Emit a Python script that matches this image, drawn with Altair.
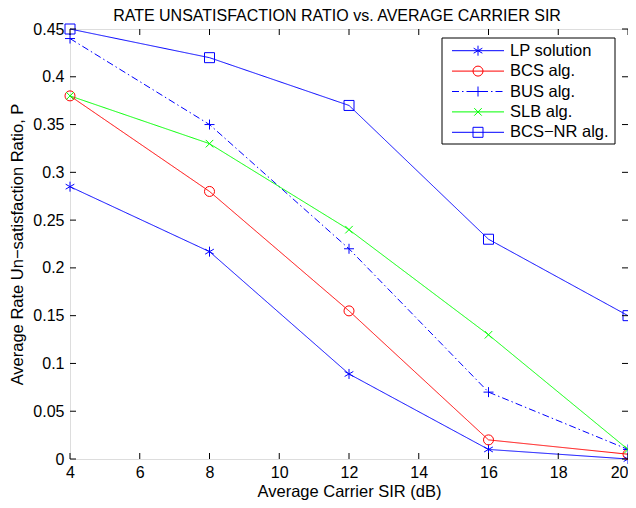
import altair as alt
import pandas as pd

# ---- data ----
snr = [4, 8, 12, 16, 20]
series_names = ["LP solution", "BCS alg.", "BUS alg.", "SLB alg.", "BCS\u2212NR alg."]
lp = [0.285, 0.217, 0.089, 0.010, 0.000]
bcs = [0.380, 0.280, 0.155, 0.020, 0.005]
bus = [0.440, 0.350, 0.220, 0.070, 0.010]
slb = [0.380, 0.330, 0.240, 0.130, 0.010]
bcsnr = [0.450, 0.420, 0.370, 0.230, 0.150]
x_ticks = [4, 6, 8, 10, 12, 14, 16, 18, 20]
y_ticks = [0, 0.05, 0.1, 0.15, 0.2, 0.25, 0.3, 0.35, 0.4, 0.45]

values = [lp, bcs, bus, slb, bcsnr]
rows = []
for name, vals in zip(series_names, values):
    for x, y in zip(snr, vals):
        rows.append({"series": name, "sir": x, "ratio": y})
df = pd.DataFrame(rows)
leg_df = pd.DataFrame({"series": series_names, "idx": list(range(len(series_names)))})

FONT = "Liberation Sans"
W, H = 558, 430

colors = ["#0000ff", "#ff0000", "#0000ff", "#00ff00", "#0000ff"]
dashes = [[1, 0], [1, 0], [7, 3, 1.5, 3], [1, 0], [1, 0]]
star = "M0,-1L0,1M-0.87,-0.5L0.87,0.5M-0.87,0.5L0.87,-0.5"
plus = "M0,-1L0,1M-1,0L1,0"
xmark = "M-0.75,-0.75L0.75,0.75M-0.75,0.75L0.75,-0.75"
shapes = [star, "circle", plus, xmark, "square"]
sizes = [100, 100, 110, 90, 70]

color_enc = alt.Color("series:N", scale=alt.Scale(domain=series_names, range=colors), legend=None)
dash_enc = alt.StrokeDash("series:N", scale=alt.Scale(domain=series_names, range=dashes), legend=None)
shape_enc = alt.Shape("series:N", scale=alt.Scale(domain=series_names, range=shapes), legend=None)
size_enc = alt.Size("series:N", scale=alt.Scale(domain=series_names, range=sizes), legend=None)

xs = alt.Scale(domain=[4, 20], nice=False, zero=False)
ys = alt.Scale(domain=[0, 0.45], nice=False, zero=False)

x_enc = alt.X("sir:Q", scale=xs, title="Average Carrier SIR (dB)",
              axis=alt.Axis(values=x_ticks, grid=False, ticks=False, domain=False,
                            labelFontSize=16, labelFont=FONT, labelPadding=5, labelColor="black",
                            labelAlign={"expr": "datum.value == 20 ? 'right' : 'center'"},
                            titleFontSize=16.5, titleFont=FONT, titleFontWeight="normal",
                            titlePadding=3, titleColor="black", labelFlush=False))
y_enc = alt.Y("ratio:Q", scale=ys, title="Average Rate Un\u2212satisfaction Ratio, P",
              axis=alt.Axis(values=y_ticks, grid=False, ticks=False, domain=False, format="~g",
                            labelFontSize=16, labelFont=FONT, labelPadding=6, labelColor="black",
                            titleFontSize=16.5, titleFont=FONT, titleFontWeight="normal",
                            titlePadding=7, titleColor="black", labelFlush=False))

base = alt.Chart(df)
lines = base.mark_line(strokeWidth=1).encode(x=x_enc, y=y_enc, color=color_enc,
                                              strokeDash=dash_enc, order="sir:Q")
points = base.mark_point(filled=False, strokeWidth=1, opacity=1).encode(
    x="sir:Q", y="ratio:Q", color=color_enc, shape=shape_enc, size=size_enc)

# inward ticks on all four sides
xt = pd.DataFrame({"sir": x_ticks})
yt = pd.DataFrame({"ratio": y_ticks})
TL = 6
tick_b = alt.Chart(xt).mark_rule(color="black", strokeWidth=1).encode(
    x="sir:Q", y=alt.value(H), y2=alt.value(H - TL))
tick_t = alt.Chart(xt).mark_rule(color="black", strokeWidth=1).encode(
    x="sir:Q", y=alt.value(0), y2=alt.value(TL))
tick_l = alt.Chart(yt).mark_rule(color="black", strokeWidth=1).encode(
    y="ratio:Q", x=alt.value(0), x2=alt.value(TL))
tick_r = alt.Chart(yt).mark_rule(color="black", strokeWidth=1).encode(
    y="ratio:Q", x=alt.value(W), x2=alt.value(W - TL))

# manual MATLAB-style legend
LX0, LX1, LY0, LY1 = 372, 545, 9, 115
leg_box = alt.Chart(pd.DataFrame({"k": [0]})).mark_rect(
    fill="white", stroke="black", strokeWidth=1).encode(
    x=alt.value(LX0), x2=alt.value(LX1), y=alt.value(LY0), y2=alt.value(LY1))
leg = alt.Chart(leg_df).transform_calculate(ly="21.7 + 20.4 * datum.idx")
leg_lines = leg.mark_rule(strokeWidth=1).encode(
    x=alt.value(382), x2=alt.value(434), y=alt.Y("ly:Q", scale=None),
    color=color_enc, strokeDash=dash_enc)
leg_pts = leg.mark_point(filled=False, strokeWidth=1, opacity=1).encode(
    x=alt.value(408), y=alt.Y("ly:Q", scale=None),
    color=color_enc, shape=shape_enc, size=size_enc)
leg_txt = leg.mark_text(align="left", baseline="middle", fontSize=16.5, font=FONT,
                        color="black").encode(
    x=alt.value(440), y=alt.Y("ly:Q", scale=None), text="series:N")

chart = alt.layer(
    lines, points, tick_b, tick_t, tick_l, tick_r, leg_box, leg_lines, leg_pts, leg_txt
).properties(
    width=W, height=H,
    padding={"left": 62, "top": 21, "right": 0, "bottom": 41},
    autosize=alt.AutoSizeParams(type="none"),
    title=alt.Title("RATE UNSATISFACTION RATIO vs. AVERAGE CARRIER SIR", fontSize=16,
                    font=FONT, fontWeight="normal", color="black", offset=2, dx=-12, dy=5),
).configure_view(stroke="black", strokeWidth=1).configure(background="white")

chart.save("out.html", embed_options={"renderer": "svg", "actions": False})
